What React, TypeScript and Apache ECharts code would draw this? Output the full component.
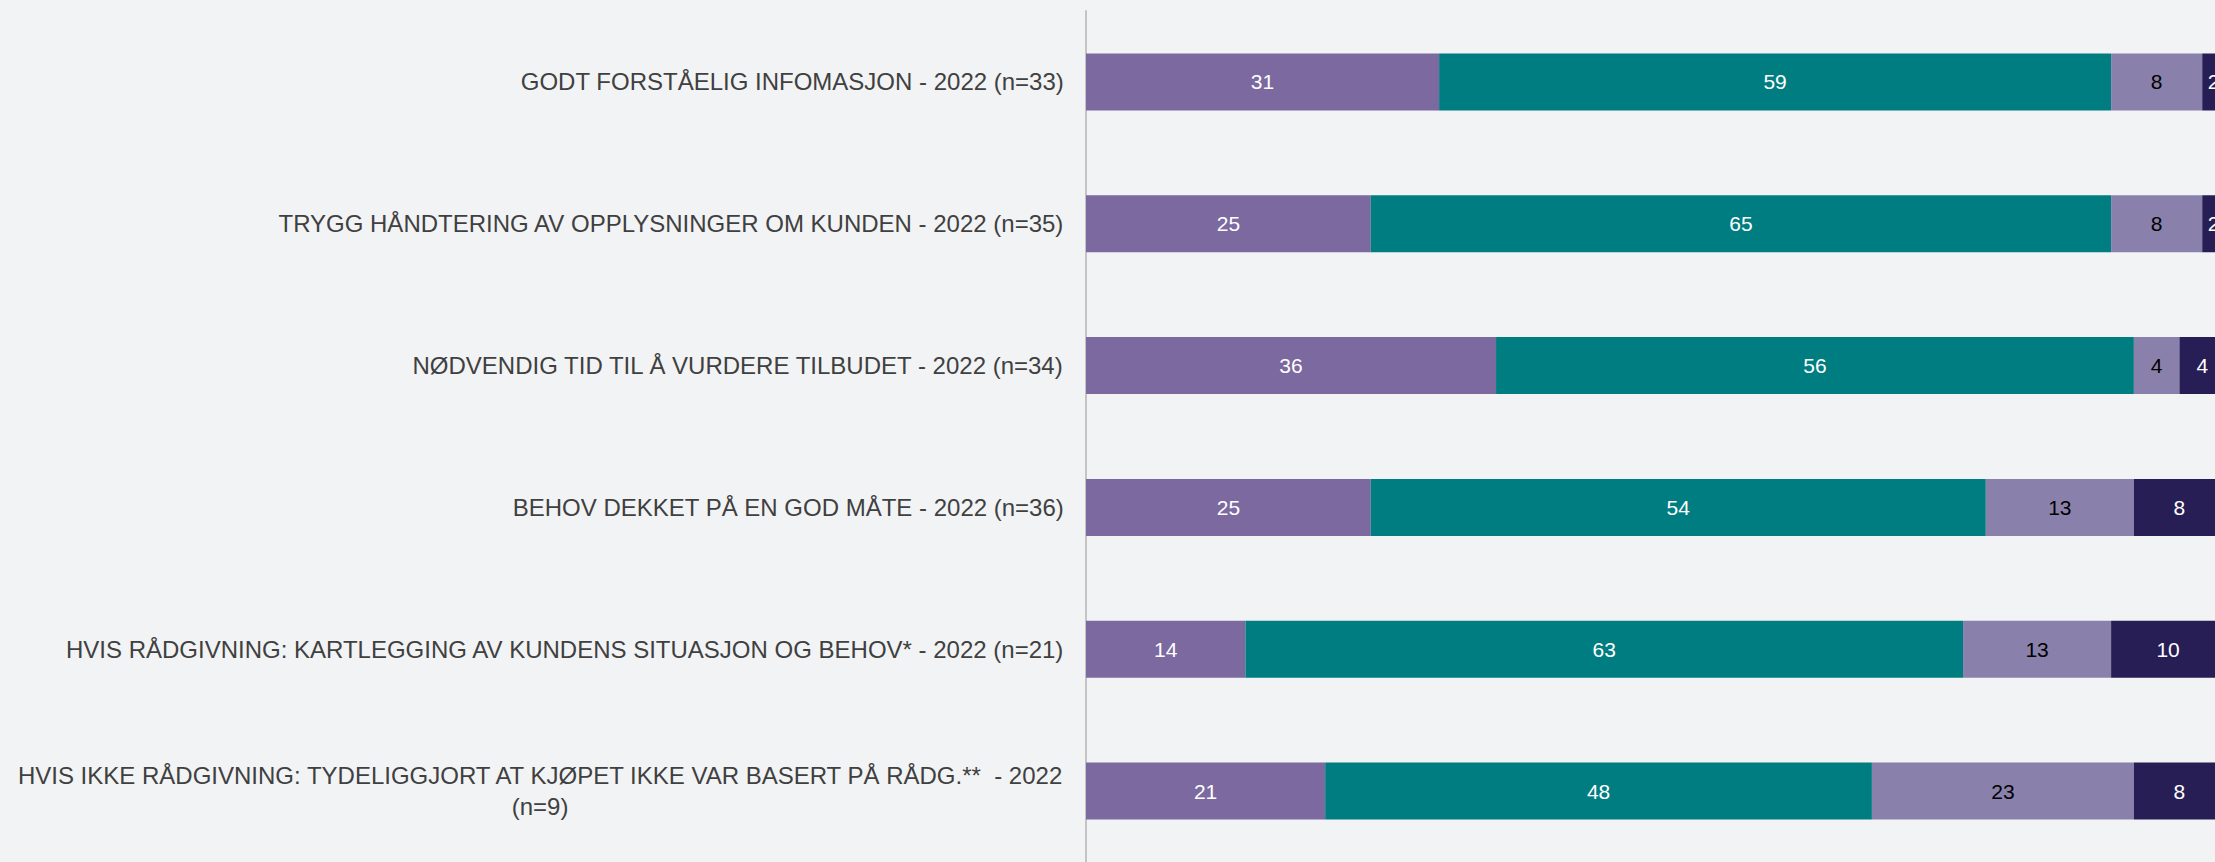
import React, { useEffect, useRef } from "react";
import * as echarts from "echarts";

const categories: string[] = [
  "GODT FORSTÅELIG INFOMASJON - 2022 (n=33)",
  "TRYGG HÅNDTERING AV OPPLYSNINGER OM KUNDEN - 2022 (n=35)",
  "NØDVENDIG TID TIL Å VURDERE TILBUDET - 2022 (n=34)",
  "BEHOV DEKKET PÅ EN GOD MÅTE - 2022 (n=36)",
  "HVIS RÅDGIVNING: KARTLEGGING AV KUNDENS SITUASJON OG BEHOV* - 2022 (n=21)",
  "HVIS IKKE RÅDGIVNING: TYDELIGGJORT AT KJØPET IKKE VAR BASERT PÅ RÅDG.**  - 2022\n(n=9)",
];

const seriesA: number[] = [31, 25, 36, 25, 14, 21];
const seriesB: number[] = [59, 65, 56, 54, 63, 48];
const seriesC: number[] = [8, 8, 4, 13, 13, 23];
const seriesD: number[] = [2, 2, 4, 8, 10, 8];

const seriesNames: string[] = ["A", "B", "C", "D"];
const seriesColors: string[] = ["#7B69A0", "#007D80", "#8A80AC", "#261E55"];
const labelColors: string[] = ["#FFFFFF", "#FFFFFF", "#000000", "#FFFFFF"];

export default function App() {
  const ref = useRef<HTMLDivElement>(null);

  useEffect(() => {
    if (!ref.current) return;
    const chart = echarts.init(ref.current, undefined, { renderer: "svg" });
    const data = [seriesA, seriesB, seriesC, seriesD];
    chart.setOption({
      animation: false,
      backgroundColor: "#F2F3F5",
      grid: { left: 1086, right: 0, top: 11, bottom: 0, containLabel: false },
      xAxis: {
        type: "value",
        min: 0,
        max: 100,
        show: false,
      },
      yAxis: {
        type: "category",
        inverse: true,
        data: categories,
        axisLine: { show: true, lineStyle: { color: "#C4C4C4", width: 2 } },
        axisTick: { show: false },
        splitLine: { show: false },
        axisLabel: {
          margin: 22,
          formatter: (v: string) =>
            v
              .split("\n")
              .map((l) => `{c|${l}}`)
              .join("\n"),
          rich: {
            c: {
              align: "center",
              fontFamily: "Liberation Sans, Arial, sans-serif",
              fontSize: 24,
              color: "#404040",
              lineHeight: 31,
            },
          },
        },
      },
      series: data.map((d, i) => ({
        name: seriesNames[i],
        type: "bar",
        stack: "total",
        barWidth: 57,
        data: d,
        itemStyle: { color: seriesColors[i] },
        label: {
          show: true,
          position: "inside",
          color: labelColors[i],
          fontFamily: "Liberation Sans, Arial, sans-serif",
          fontSize: 21,
        },
      })),
    });
    return () => chart.dispose();
  }, []);

  return (
    <div
      style={{
        position: "fixed",
        left: 0,
        top: 0,
        width: 2215,
        height: 862,
        overflow: "hidden",
        background: "#F2F3F5",
      }}
    >
      <div ref={ref} style={{ width: 2225, height: 862 }} />
    </div>
  );
}
